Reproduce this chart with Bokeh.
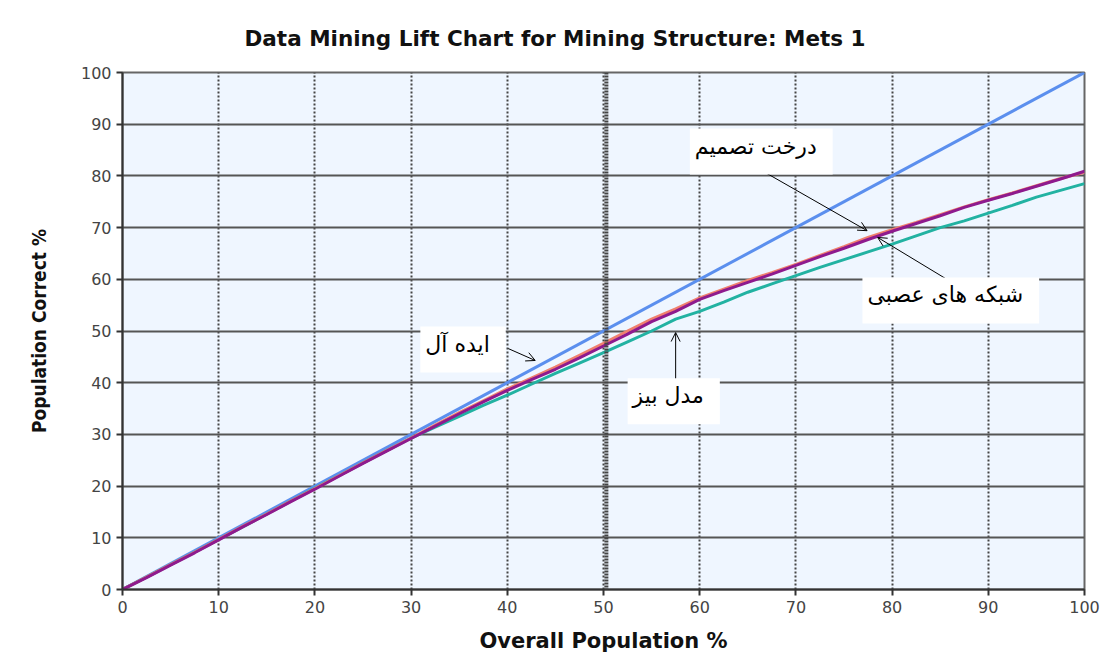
from bokeh.plotting import figure
from bokeh.models import Range1d, Span, Label, Arrow, OpenHead, FixedTicker, Title
from bokeh.embed import file_html
from bokeh.resources import INLINE

# ---- data ----
population = [0, 2.5, 5, 7.5, 10, 12.5, 15, 17.5, 20, 22.5, 25, 27.5, 30, 32.5, 35, 37.5,
              40, 42.5, 45, 47.5, 50, 52.5, 55, 57.5, 60, 62.5, 65, 67.5, 70, 72.5, 75,
              77.5, 80, 82.5, 85, 87.5, 90, 92.5, 95, 97.5, 100]
ideal_x = [0, 100]
ideal_y = [0, 100]
neural = [0, 2.3, 4.7, 7.1, 9.6, 12.1, 14.5, 17.0, 19.4, 21.9, 24.4, 26.8, 29.2, 31.6, 34.0,
          36.3, 38.5, 40.6, 42.6, 44.8, 47.1, 49.4, 51.8, 53.8, 56.1, 57.8, 59.4, 61.0,
          62.7, 64.4, 66.0, 67.7, 69.3, 70.8, 72.3, 73.9, 75.3, 76.6, 78.0, 79.4, 80.9]
tree = [0, 2.4, 4.8, 7.2, 9.7, 12.2, 14.6, 17.1, 19.5, 22.0, 24.5, 26.9, 29.3, 31.8, 34.2,
        36.5, 38.8, 40.9, 43.0, 45.3, 47.6, 50.0, 52.3, 54.3, 56.4, 58.1, 59.8, 61.3,
        62.9, 64.6, 66.3, 68.1, 69.6, 71.0, 72.5, 74.0, 75.4, 76.7, 78.1, 79.5, 80.7]
bayes = [0, 2.4, 4.8, 7.2, 9.7, 12.1, 14.6, 17.1, 19.6, 22.0, 24.5, 26.9, 29.3, 31.4, 33.5,
         35.6, 37.6, 39.7, 41.8, 43.8, 45.8, 47.9, 50.0, 52.3, 53.8, 55.6, 57.5, 59.1,
         60.7, 62.3, 63.8, 65.3, 66.8, 68.4, 70.0, 71.3, 72.8, 74.3, 75.9, 77.2, 78.5]
ticks = [0, 10, 20, 30, 40, 50, 60, 70, 80, 90, 100]
cursor_x = 50.3

title_text = "Data Mining Lift Chart for Mining Structure: Mets 1"
x_title = "Overall Population %"
y_title = "Population Correct %"

notes = [
    # text, label x, label y, arrow start x, start y, end x, end y
    ("درخت تصمیم", 66.4, 84.7, 66.3, 81.2, 77.4, 69.4),
    ("شبکه های عصبی", 86.1, 55.9, 86.4, 59.2, 78.5, 68.1),
    ("ایده آل", 35.4, 46.4, 40.1, 46.6, 42.9, 44.3),
    ("مدل بیز", 57.3, 36.4, 57.5, 39.8, 57.5, 49.7),
]

# ---- figure ----
p = figure(width=1110, height=666, output_backend="svg", toolbar_location=None,
           x_range=Range1d(0, 100), y_range=Range1d(0, 100),
           min_border_left=122, min_border_right=26, min_border_top=72, min_border_bottom=77)

p.title = Title(text=title_text, align="left", offset=122, standoff=44,
                text_font="DejaVu Sans", text_font_size="21.5px", text_font_style="bold",
                text_color="#111111")
p.background_fill_color = "#EFF6FF"
p.border_fill_color = "white"
p.outline_line_color = "#666666"
p.outline_line_width = 2

for ax in (p.xaxis, p.yaxis):
    ax.ticker = FixedTicker(ticks=ticks)
    ax.minor_tick_line_color = None
    ax.major_tick_out = 6
    ax.major_tick_in = 0
    ax.major_tick_line_color = "#333333"
    ax.major_tick_line_width = 2
    ax.axis_line_color = "#333333"
    ax.axis_line_width = 2
    ax.major_label_text_font = "DejaVu Sans"
    ax.major_label_text_font_size = "16px"
    ax.major_label_text_color = "#444444"
    ax.axis_label_text_font_style = "bold"
    ax.axis_label_text_color = "#111111"

p.xaxis.axis_label = x_title
p.xaxis.axis_label_text_font = "DejaVu Sans"
p.xaxis.axis_label_text_font_size = "21px"
p.xaxis.axis_label_standoff = 13
p.yaxis.axis_label = y_title
p.yaxis.axis_label_text_font = "DejaVu Sans Condensed"
p.yaxis.axis_label_text_font_size = "19px"
p.yaxis.axis_label_standoff = 28

p.ygrid.grid_line_color = "#555555"
p.ygrid.grid_line_width = 2
p.xgrid.grid_line_color = "#444444"
p.xgrid.grid_line_width = 2
p.xgrid.grid_line_dash = "2 2"

p.add_layout(Span(location=cursor_x, dimension="height", line_color="#444444",
                  line_width=4, line_dash="2 1"))

p.line(ideal_x, ideal_y, line_color="#5B8FEE", line_width=3)
p.line(population, bayes, line_color="#22B2A2", line_width=3)
p.line(population, tree, line_color="#F0806E", line_width=3)
p.line(population, neural, line_color="#8E1A8E", line_width=3)

for txt, lx, ly, sx, sy, ex, ey in notes:
    p.add_layout(Arrow(end=OpenHead(size=9, line_width=1, line_color="black"),
                       x_start=sx, y_start=sy, x_end=ex, y_end=ey,
                       line_color="black", line_width=1))
    p.add_layout(Label(x=lx, y=ly, text=txt, text_align="center", text_baseline="middle",
                       text_font="DejaVu Sans", text_font_size="22px", text_color="black",
                       background_fill_color="white", padding=(5, 16, 5, 16)))

open("out.html", "w").write(file_html(p, INLINE))
